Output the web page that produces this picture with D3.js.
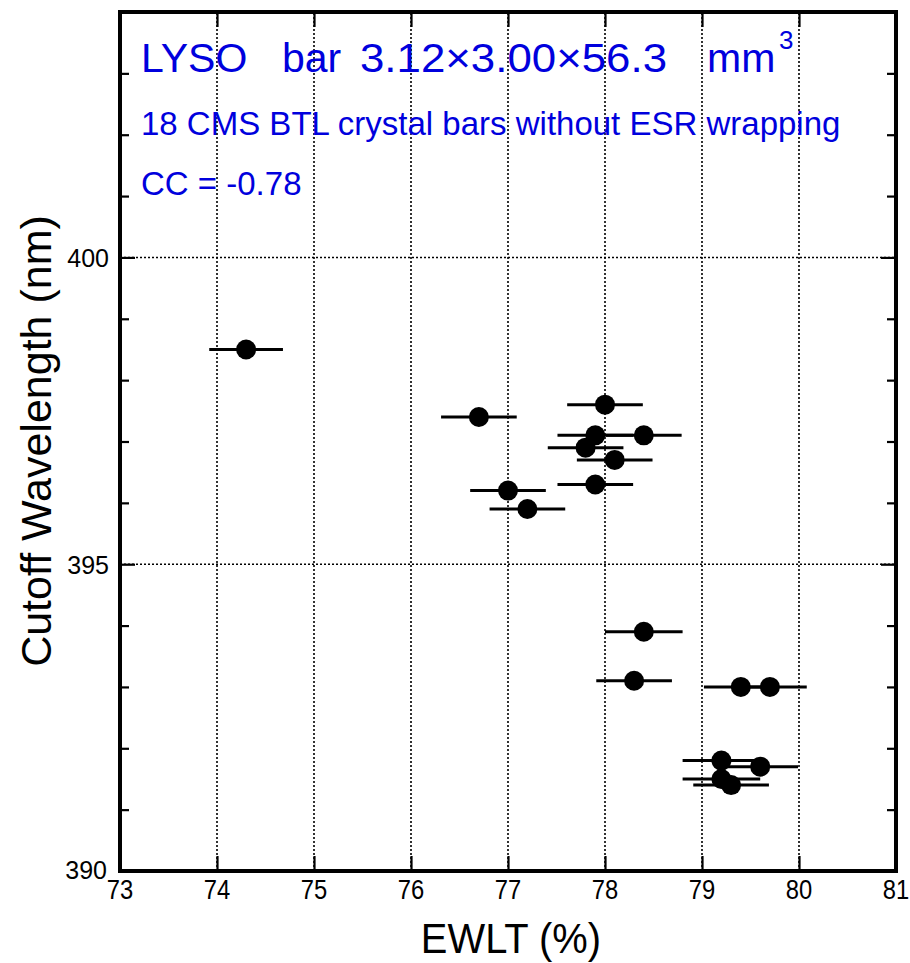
<!DOCTYPE html>
<html>
<head>
<meta charset="utf-8">
<script src="https://cdn.jsdelivr.net/npm/d3@7"></script>
<style>
  body { margin: 0; background: #fff; }
  svg { display: block; }
</style>
</head>
<body>
<svg id="chart"></svg>
<script>
// EWLT (%) vs cutoff wavelength (nm), 18 bars
const ewlt   = [74.3, 76.7, 78.0, 77.9, 78.4, 77.8, 78.1, 77.9, 77.0, 77.2, 78.4, 78.3, 79.4, 79.7, 79.2, 79.6, 79.2, 79.3];
const cutoff = [398.5, 397.4, 397.6, 397.1, 397.1, 396.9, 396.7, 396.3, 396.2, 395.9, 393.9, 393.1, 393.0, 393.0, 391.8, 391.7, 391.5, 391.4];
const ewltErr = [0.38, 0.39, 0.39, 0.39, 0.39, 0.39, 0.39, 0.39, 0.39, 0.39, 0.4, 0.39, 0.38, 0.38, 0.4, 0.39, 0.4, 0.39];
const xTicks = [73, 74, 75, 76, 77, 78, 79, 80, 81];
const yTicks = [390, 395, 400];
const titleLines = ['18 CMS BTL crystal bars without ESR wrapping', 'CC = -0.78'];

const width = 910, height = 963;
const margin = {top: 12, right: 14, bottom: 92, left: 120};

const svg = d3.select('#chart')
    .attr('width', width)
    .attr('height', height);

const x = d3.scaleLinear().domain([73, 81]).range([margin.left, width - margin.right]);
const y = d3.scaleLinear().domain([390, 404]).range([height - margin.bottom, margin.top]);

const blue = '#0000dd';
const font = 'Arial, "Liberation Sans", sans-serif';

// grid lines
svg.append('g')
    .selectAll('line')
    .data(xTicks.slice(1, -1))
    .enter().append('line')
    .attr('x1', d => x(d)).attr('x2', d => x(d))
    .attr('y1', y(390)).attr('y2', y(404))
    .attr('stroke', '#000').attr('stroke-width', 1.6).attr('stroke-dasharray', '2,2');

svg.append('g')
    .selectAll('line')
    .data([395, 400])
    .enter().append('line')
    .attr('x1', x(73)).attr('x2', x(81))
    .attr('y1', d => y(d)).attr('y2', d => y(d))
    .attr('stroke', '#000').attr('stroke-width', 1.6).attr('stroke-dasharray', '2,2');

// axes, ticks pointing inward
const axBottom = svg.append('g')
    .attr('transform', 'translate(0,' + y(390) + ')')
    .call(d3.axisBottom(x).tickValues(xTicks).tickSize(-15).tickFormat(''));
const axTop = svg.append('g')
    .attr('transform', 'translate(0,' + y(404) + ')')
    .call(d3.axisTop(x).tickValues(xTicks).tickSize(-15).tickFormat(''));
const axLeft = svg.append('g')
    .attr('transform', 'translate(' + x(73) + ',0)')
    .call(d3.axisLeft(y).tickValues(d3.range(390, 405, 1)).tickSize(-15).tickFormat(''));
const axRight = svg.append('g')
    .attr('transform', 'translate(' + x(81) + ',0)')
    .call(d3.axisRight(y).tickValues(d3.range(390, 405, 1)).tickSize(-15).tickFormat(''));

// minor y ticks shorter
[axLeft, axRight].forEach(g => {
    g.selectAll('.tick line')
        .attr('stroke-width', 2.2)
        .attr('x2', d => (d % 5 === 0 ? 15 : 9) * (g === axLeft ? 1 : -1));
});
[axBottom, axTop].forEach(g => g.selectAll('.tick line').attr('stroke-width', 2.2));
[axBottom, axTop, axLeft, axRight].forEach(g => g.select('.domain').remove());

// x tick labels (slightly condensed)
svg.append('g')
    .selectAll('text')
    .data(xTicks)
    .enter().append('text')
    .attr('transform', d => 'translate(' + x(d) + ',899) scale(0.88,1)')
    .attr('text-anchor', 'middle')
    .attr('font-family', font)
    .attr('font-size', 27)
    .text(d => d);

// y tick labels
svg.append('g')
    .selectAll('text')
    .data(yTicks)
    .enter().append('text')
    .attr('x', d => d === 390 ? 107 : 109)
    .attr('y', d => d === 390 ? 879 : y(d) + 10)
    .attr('text-anchor', 'end')
    .attr('font-family', font)
    .attr('font-size', 25)
    .text(d => d);

// frame
svg.append('rect')
    .attr('x', x(73)).attr('y', y(404))
    .attr('width', x(81) - x(73)).attr('height', y(390) - y(404))
    .attr('fill', 'none').attr('stroke', '#000').attr('stroke-width', 4);

// error bars and points
const pts = ewlt.map((v, i) => ({x: v, y: cutoff[i], e: ewltErr[i]}));

svg.append('g')
    .selectAll('line')
    .data(pts)
    .enter().append('line')
    .attr('x1', d => x(d.x - d.e)).attr('x2', d => x(d.x + d.e))
    .attr('y1', d => y(d.y)).attr('y2', d => y(d.y))
    .attr('stroke', '#000').attr('stroke-width', 3);

svg.append('g')
    .selectAll('circle')
    .data(pts)
    .enter().append('circle')
    .attr('cx', d => x(d.x))
    .attr('cy', d => y(d.y))
    .attr('r', 10)
    .attr('fill', '#000');

// axis titles
svg.append('text')
    .attr('transform', 'translate(511,953) scale(0.95,1)')
    .attr('text-anchor', 'middle')
    .attr('font-family', font)
    .attr('font-size', 42)
    .text('EWLT (%)');

svg.append('text')
    .attr('transform', 'translate(51,441) rotate(-90)')
    .attr('text-anchor', 'middle')
    .attr('font-family', font)
    .attr('font-size', 43)
    .text('Cutoff Wavelength (nm)');

// annotations
const head = svg.append('text')
    .attr('y', 72)
    .attr('font-family', font)
    .attr('font-size', 41)
    .attr('fill', blue);
head.append('tspan').attr('x', 141).text('LYSO');
head.append('tspan').attr('x', 282).text('bar');
head.append('tspan').attr('x', 360).attr('textLength', 307).attr('lengthAdjust', 'spacingAndGlyphs')
    .text('3.12\u00d73.00\u00d756.3');
head.append('tspan').attr('x', 707).text('mm');
head.append('tspan').attr('x', 779).attr('y', 49).attr('font-size', 26).text('3');

svg.append('g')
    .selectAll('text')
    .data(titleLines)
    .enter().append('text')
    .attr('x', 141)
    .attr('y', (d, i) => 135 + i * 60)
    .attr('font-family', font)
    .attr('font-size', 33)
    .attr('fill', blue)
    .text(d => d);
</script>
</body>
</html>
